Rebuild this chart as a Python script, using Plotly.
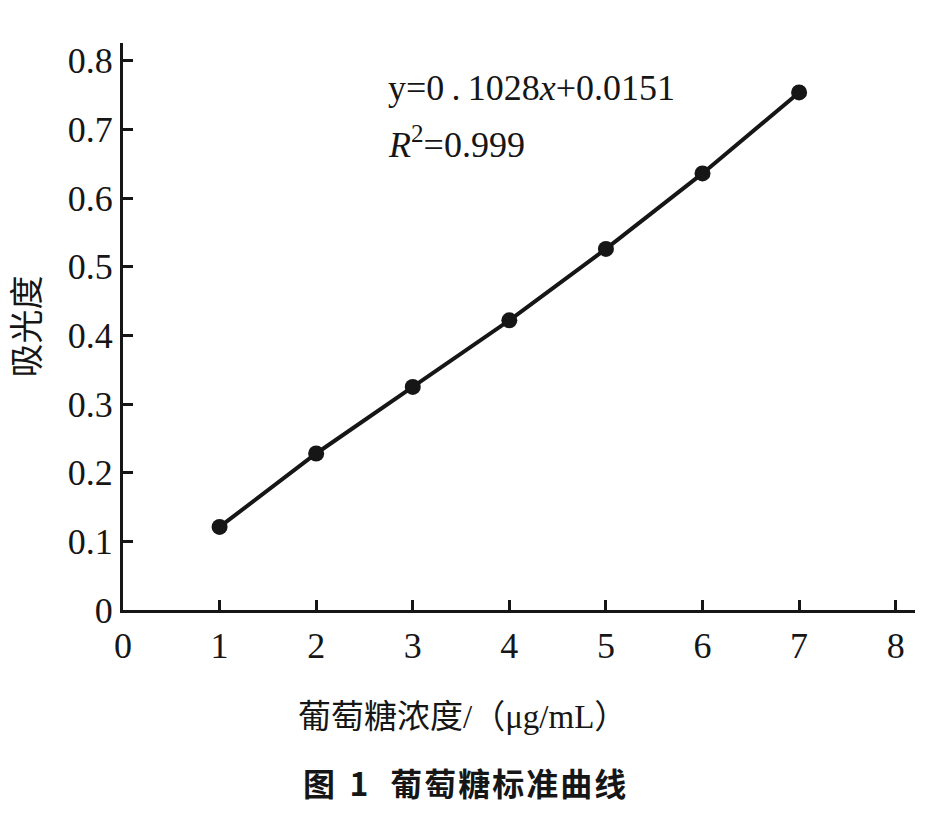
import plotly.graph_objects as go

# Data
concentration = [1, 2, 3, 4, 5, 6, 7]           # 葡萄糖浓度 (μg/mL)
absorbance = [0.121, 0.228, 0.325, 0.422, 0.526, 0.636, 0.754]  # 吸光度

x_ticks = [0, 1, 2, 3, 4, 5, 6, 7, 8]
y_ticks = [0, 0.1, 0.2, 0.3, 0.4, 0.5, 0.6, 0.7, 0.8]
y_tick_text = ["0", "0.1", "0.2", "0.3", "0.4", "0.5", "0.6", "0.7", "0.8"]

equation_text = "y=0\u2009.\u20091028<i>x</i>+0.0151"
r2_text = "<i>R</i><sup>2</sup>=0.999"
x_title = "葡萄糖浓度/（μg/mL）"
y_title = "吸光度"
caption = "图\u00a0\u00a01\u00a0\u00a0\u00a0葡\u200a萄\u200a糖\u200a标\u200a准\u200a曲\u200a线"

SERIF = "Liberation Serif, Times New Roman, Noto Sans CJK SC, serif"
CJK_SANS = "Noto Sans CJK SC, sans-serif"
INK = "#161616"

# page has an 8px body margin: figure spans page x 8..937, y 8..825
W, H = 929, 817
L, R, T, B = 115, 22, 35, 215
PW, PH = W - L - R, H - T - B


def px(xpage):
    return (xpage - 8 - L) / PW


def py(ypage):
    return (H - B - (ypage - 8)) / PH


fig = go.Figure()
fig.add_trace(go.Scatter(
    x=concentration, y=absorbance,
    mode="lines+markers",
    line=dict(color=INK, width=4),
    marker=dict(color=INK, size=16, symbol="circle"),
    showlegend=False,
    hoverinfo="skip",
))

axis_common = dict(
    showgrid=False, zeroline=False, showline=True,
    linecolor=INK, linewidth=3,
    ticks="inside", ticklen=10, tickwidth=3, tickcolor=INK,
    tickfont=dict(family=SERIF, size=36, color=INK),
    mirror=False,
)

fig.update_xaxes(
    range=[0, 8.2], tickvals=x_ticks, ticktext=[str(v) for v in x_ticks],
    ticklabelstandoff=2,
    **axis_common,
)
fig.update_yaxes(
    range=[0, 0.826], tickvals=y_ticks, ticktext=y_tick_text,
    ticklabelstandoff=0,
    title=dict(text=y_title, font=dict(family=SERIF, size=34, color=INK), standoff=18),
    **axis_common,
)

fig.add_annotation(
    text=equation_text, xref="paper", yref="paper",
    x=px(386), y=py(88), xanchor="left", yanchor="middle", showarrow=False,
    font=dict(family=SERIF, size=36, color=INK),
)
fig.add_annotation(
    text=r2_text, xref="paper", yref="paper",
    x=px(386), y=py(142), xanchor="left", yanchor="middle", showarrow=False,
    font=dict(family=SERIF, size=36, color=INK),
)
fig.add_annotation(
    text=x_title, xref="paper", yref="paper",
    x=px(462), y=py(717), xanchor="center", yanchor="middle",
    showarrow=False,
    font=dict(family=SERIF, size=33, color=INK),
)
fig.add_annotation(
    text="<b>" + caption + "</b>", xref="paper", yref="paper",
    x=px(464), y=py(782), xanchor="center", yanchor="middle",
    showarrow=False,
    font=dict(family=CJK_SANS, size=32, color=INK),
)

fig.update_layout(
    width=W, height=H,
    margin=dict(l=L, r=R, t=T, b=B),
    paper_bgcolor="white", plot_bgcolor="white",
)

fig.write_html("out.html")
